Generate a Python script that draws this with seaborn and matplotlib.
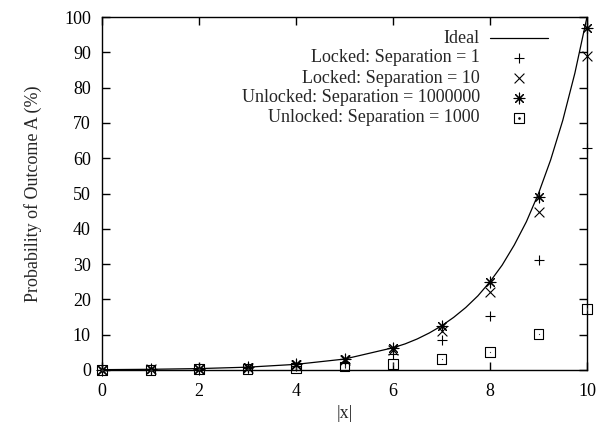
import numpy as np
import pandas as pd
import matplotlib
matplotlib.use("Agg")
import matplotlib.pyplot as plt
import seaborn as sns

# Data
x_vals = [0, 1, 2, 3, 4, 5, 6, 7, 8, 9, 10]
locked_1 = [0.1, 0.1, 0.4, 0.5, 1.0, 2.0, 4.6, 8.4, 15.4, 31.3, 63.0]
locked_10 = [0.1, 0.2, 0.4, 0.7, 1.4, 2.8, 5.6, 11.0, 22.2, 44.8, 89.0]
unlocked_1e6 = [0.1, 0.2, 0.4, 0.8, 1.6, 3.1, 6.3, 12.4, 25.0, 49.0, 97.0]
unlocked_1e3 = [0.1, 0.1, 0.2, 0.3, 0.6, 1.0, 1.6, 3.0, 5.2, 10.2, 17.3]

# Ideal curve samples
ideal_x = [0, 1, 2, 3, 4, 5, 6, 6.25, 6.5, 6.75, 7, 7.25, 7.5, 7.75, 8,
           8.25, 8.5, 8.75, 9, 9.25, 9.5, 9.75, 10]
ideal_y = [0.1, 0.2, 0.4, 0.8, 1.6, 3.1, 6.3, 7.4, 8.8, 10.5, 12.5, 14.9, 17.7,
           21.0, 25.0, 29.7, 35.4, 42.0, 50.0, 59.5, 70.7, 84.1, 100.0]

labels = ["Ideal", "Locked: Separation = 1", "Locked: Separation = 10",
          "Unlocked: Separation = 1000000", "Unlocked: Separation = 1000"]

sns.set_style("ticks")
plt.rcParams["font.family"] = ["Liberation Serif", "DejaVu Serif"]
plt.rcParams["font.size"] = 13

fig = plt.figure(figsize=(6.03, 4.30), dpi=100)
ax = fig.add_axes([102 / 603, 1 - 370 / 430, 485 / 603, 353 / 430])

ideal_df = pd.DataFrame({"x": ideal_x, "y": ideal_y})
sns.lineplot(data=ideal_df, x="x", y="y", ax=ax, color="black", lw=0.9)

pts = pd.DataFrame({"x": x_vals, "l1": locked_1, "l10": locked_10,
                    "u6": unlocked_1e6, "u3": unlocked_1e3})
kw = dict(ax=ax, color="black", clip_on=False, zorder=3)
sns.scatterplot(data=pts, x="x", y="l1", marker="+", s=50, linewidth=0.8, **kw)
sns.scatterplot(data=pts, x="x", y="l10", marker="x", s=50, linewidth=0.8, **kw)
sns.scatterplot(data=pts, x="x", y="u6", marker=(8, 2, 0), s=60, linewidth=0.8, **kw)
sns.scatterplot(data=pts, x="x", y="u3", marker="s", s=50, facecolor="none",
                edgecolor="black", linewidth=0.8, ax=ax, clip_on=False, zorder=3)
sns.scatterplot(data=pts, x="x", y="u3", marker=".", s=3, **kw)

ax.set_xlim(0, 10)
ax.set_ylim(0, 100)
ax.set_xticks(range(0, 11, 2))
ax.set_yticks(range(0, 101, 10))
ax.tick_params(direction="in", length=6, width=1, top=True, right=True,
               labelsize=13, colors="black")
ax.tick_params(axis="x", pad=9)
ax.tick_params(axis="y", pad=8)
for sp in ax.spines.values():
    sp.set_visible(True)
    sp.set_linewidth(1)
    sp.set_color("black")
ax.set_xlabel("|x|", fontsize=13, labelpad=4)
ax.set_ylabel("Probability of Outcome A (%)", fontsize=13, labelpad=16)

# legend drawn gnuplot-style: right aligned text, key sample on the right
rows_y = [0.940, 0.884, 0.827, 0.771, 0.714]
for lab, yy in zip(labels, rows_y):
    ax.text(0.779, yy, lab, transform=ax.transAxes, ha="right", va="center", fontsize=13)
ax.plot([0.800, 0.920], [rows_y[0]] * 2, transform=ax.transAxes, color="black", lw=0.9)
ax.scatter([0.860], [rows_y[1]], transform=ax.transAxes, marker="+", s=50, color="black", linewidth=0.8)
ax.scatter([0.860], [rows_y[2]], transform=ax.transAxes, marker="x", s=50, color="black", linewidth=0.8)
ax.scatter([0.860], [rows_y[3]], transform=ax.transAxes, marker=(8, 2, 0), s=60, color="black", linewidth=0.8)
ax.scatter([0.860], [rows_y[4]], transform=ax.transAxes, marker="s", s=50, facecolor="none",
           edgecolor="black", linewidth=0.8)
ax.scatter([0.860], [rows_y[4]], transform=ax.transAxes, marker=".", s=3, color="black")

fig.savefig("out.png", dpi=100)
